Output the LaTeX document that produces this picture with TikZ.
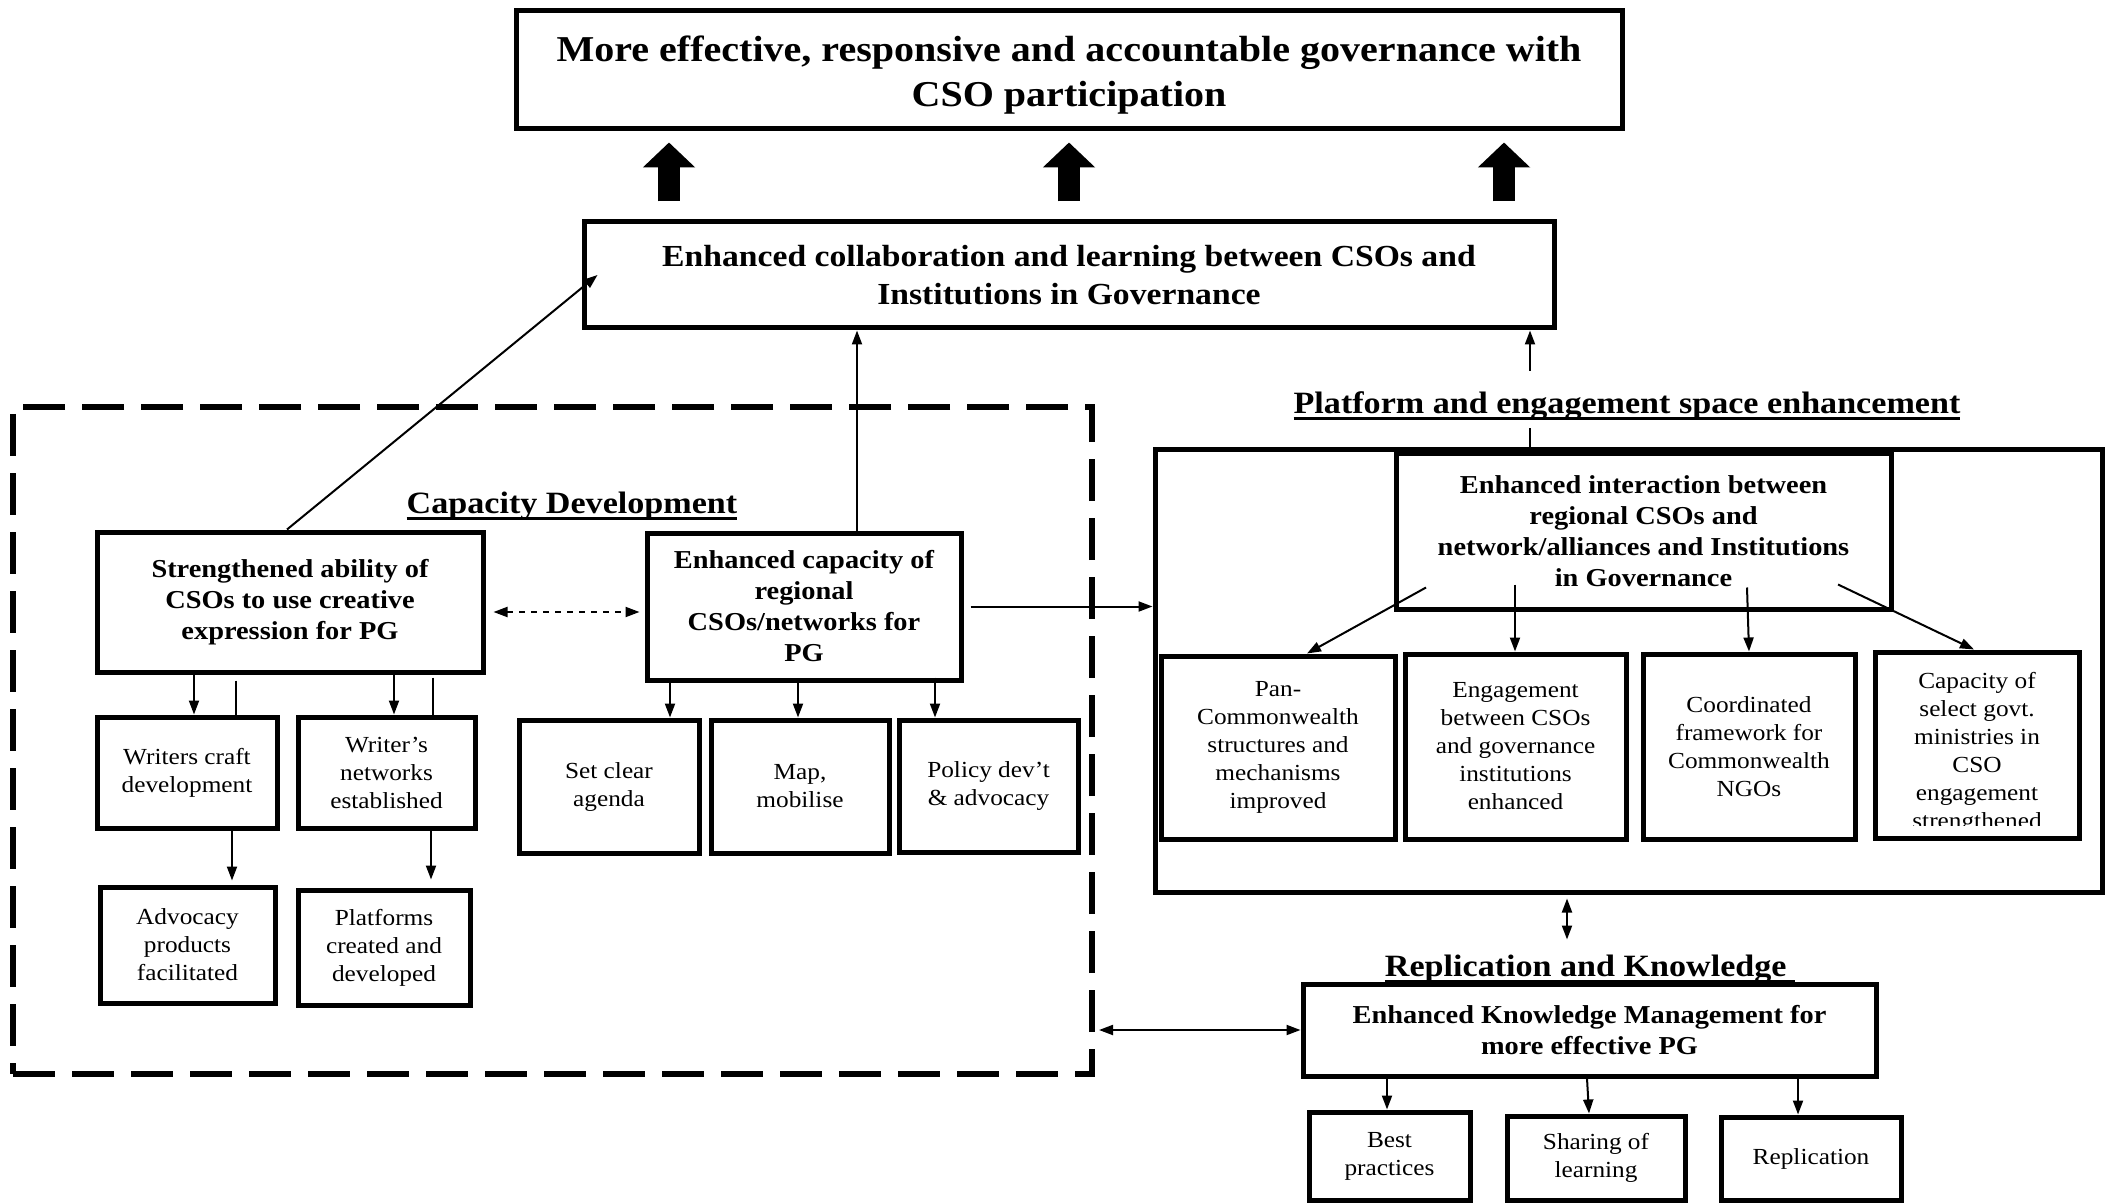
\documentclass[tikz,border=0pt]{standalone}
\usepackage{fontspec}
\setmainfont[FakeStretch=1.1]{Liberation Serif}
\usetikzlibrary{arrows.meta}
\newcommand\mkbox[7][]{\node[#1,minimum width={(#5-#3)*0.5pt},minimum height={(#6-#4)*0.5pt}] (#2) at ({(#3+#5)/2},{(#4+#6)/2}) {#7};}
\newcommand\ulx[1]{\setbox0\hbox{#1}\rlap{\rule[-3.2pt]{\wd0}{1.3pt}}\box0}
\begin{document}
\begin{tikzpicture}[x=0.5pt,y=-0.5pt,
  box/.style={draw,line width=2.5pt,align=center,inner sep=0pt},
  dbox/.style={draw,line width=3pt,dash pattern=on 21pt off 8.5pt,inner sep=0pt},
  ftop/.style={font=\fontsize{18.2}{22.5}\selectfont\bfseries},
  fmid/.style={font=\fontsize{15.3}{19}\selectfont\bfseries},
  ftitle/.style={font=\fontsize{15.5}{18}\selectfont\bfseries,inner sep=0pt},
  fbold/.style={font=\fontsize{12.9}{15.5}\selectfont\bfseries},
  freg/.style={font=\fontsize{11.5}{14}\selectfont},
  ln/.style={line width=1pt},
  arr/.style={line width=1pt,-{Triangle[length=7pt,width=5pt]}},
  darr/.style={line width=1pt,{Triangle[length=7pt,width=5pt]}-{Triangle[length=7pt,width=5pt]}},
  bigarr/.style={line width=11pt,-{Triangle[length=12.5pt,width=25.5pt]}}]
\useasboundingbox (0,0) rectangle (2113,1203);
% boxes
\mkbox[box]{top}{516}{11}{1622}{129}{}
\node[ftop,align=center,inner sep=0pt] (toptext) at ([yshift=-2.7pt]top.center) {More effective, responsive and accountable governance with\\CSO participation};
\mkbox[box,fmid]{mid}{584}{222}{1554}{328}{Enhanced collaboration and learning between CSOs and\\Institutions in Governance}
\mkbox[dbox]{cap}{13}{407}{1092}{1074}{}
\node[ftitle] (captitle) at (572,506) {\ulx{Capacity Development}};
\mkbox[box,fbold]{sa}{97}{532}{483}{672}{Strengthened ability of\\CSOs to use creative\\expression for PG}
\mkbox[box,fbold]{ec}{647}{533}{961}{680}{Enhanced capacity of\\regional\\CSOs/networks for\\PG}
\mkbox[box,freg]{wc}{97}{717}{277}{828}{Writers craft\\development}
\mkbox[box,freg]{wn}{298}{717}{475}{828}{Writer’s\\networks\\established}
\mkbox[box,freg]{ap}{100}{887}{275}{1003}{Advocacy\\products\\facilitated}
\mkbox[box,freg]{pc}{298}{890}{470}{1005}{Platforms\\created and\\developed}
\mkbox[box,freg]{sc}{519}{720}{699}{853}{Set clear\\agenda}
\mkbox[box,freg]{mm}{711}{720}{889}{853}{Map,\\mobilise}
\mkbox[box,freg]{pd}{899}{720}{1078}{852}{Policy dev’t\\\& advocacy}
\node[ftitle] (pltitle) at (1627,406) {\ulx{Platform and engagement space enhancement}};
\mkbox[box]{pb}{1155}{449}{2102}{892}{}
\mkbox[box,fbold]{ia}{1396}{453}{1891}{609}{Enhanced interaction between\\regional CSOs and\\network/alliances and Institutions\\in Governance}
\mkbox[box,freg]{p1}{1161}{656}{1395}{839}{Pan-\\Commonwealth\\structures and\\mechanisms\\improved}
\mkbox[box,freg]{p2}{1405}{654}{1626}{839}{Engagement\\between CSOs\\and governance\\institutions\\enhanced}
\mkbox[box,freg]{p3}{1643}{654}{1855}{839}{Coordinated\\framework for\\Commonwealth\\NGOs}
\mkbox[box]{p4}{1875}{652}{2079}{838}{}
\begin{scope}
\clip (1880,656) rectangle (2074,825);
\node[freg,align=center,anchor=north,inner sep=0pt] (p4t) at (1977,672) {Capacity of\\select govt.\\ministries in\\CSO\\engagement\\strengthened};
\end{scope}
\node[ftitle] (rktitle) at (1590,969) {\ulx{Replication and Knowledge\ }};
\mkbox[box,fbold]{kb}{1303}{984}{1876}{1076}{Enhanced Knowledge Management for\\more effective PG}
\mkbox[box,freg]{bp}{1309}{1112}{1470}{1200}{Best\\practices}
\mkbox[box,freg]{sl}{1507}{1116}{1685}{1200}{Sharing of\\learning}
\mkbox[box,freg]{rp}{1721}{1117}{1901}{1200}{Replication}
% big arrows
\foreach \x in {669,1069,1504}
  \draw[bigarr,shorten <=9pt,shorten >=5.5pt] (mid.north -| \x,0) -- (top.south -| \x,0);
% connectors to mid
\draw[arr] (sa.north -| 287,0) -- ([xshift=8pt]mid.west);
\draw[arr] (ec.north -| 857,0) -- (mid.south -| 857,0);
\coordinate (pl1) at (1530,428);
\coordinate (pl2) at (1530,371);
\draw[ln] (pb.north -| pl1) -- (pl1);
\draw[arr] (pl2) -- (mid.south -| pl2);
% capacity development
\draw[darr,dashed,shorten <=4pt,shorten >=2.5pt] ([yshift=-5pt]sa.east) -- ([yshift=-5pt]sa.east -| ec.west);
\draw[arr,shorten <=3.5pt] (ec.east) -- (ec.east -| pb.west);
\draw[arr] (sa.south -| 194,0) -- (wc.north -| 194,0);
\draw[ln,shorten <=3pt] (sa.south -| 236,0) -- (wc.north -| 236,0);
\draw[arr] (sa.south -| 394,0) -- (wn.north -| 394,0);
\draw[ln,shorten <=1.5pt] (sa.south -| 433,0) -- (wn.north -| 433,0);
\draw[arr,shorten >=2pt] (wc.south -| 232,0) -- (ap.north -| 232,0);
\draw[arr,shorten >=4pt] (wn.south -| 431,0) -- (pc.north -| 431,0);
\draw[arr] (ec.south -| 670,0) -- (sc.north -| 670,0);
\draw[arr] (ec.south -| 798,0) -- (mm.north -| 798,0);
\draw[arr] ([yshift=2.5pt]ec.south -| 935,0) -- (pd.north -| 935,0);
% platform
\draw[arr] ([yshift=12pt]ia.south -| 1426,0) -- (p1.north -| 1307,0);
\draw[arr] ([yshift=13.5pt]ia.south -| 1515,0) -- (p2.north -| 1515,0);
\draw[arr] ([yshift=12pt]ia.south -| 1747,0) -- (p3.north -| 1749,0);
\draw[arr] ([yshift=13.5pt]ia.south -| 1838,0) -- (p4.north -| 1974,0);
% knowledge
\draw[darr,shorten <=2pt,shorten >=21pt] (pb.south -| 1567,0) -- (kb.north -| 1567,0);
\draw[darr,shorten <=2pt] (cap.east |- kb.west) -- (kb.west);
\draw[arr] (kb.south -| 1387,0) -- (bp.north -| 1387,0);
\draw[arr] (kb.south -| 1587,0) -- (sl.north -| 1589,0);
\draw[arr] (kb.south -| 1798,0) -- (rp.north -| 1798,0);
\end{tikzpicture}
\end{document}
